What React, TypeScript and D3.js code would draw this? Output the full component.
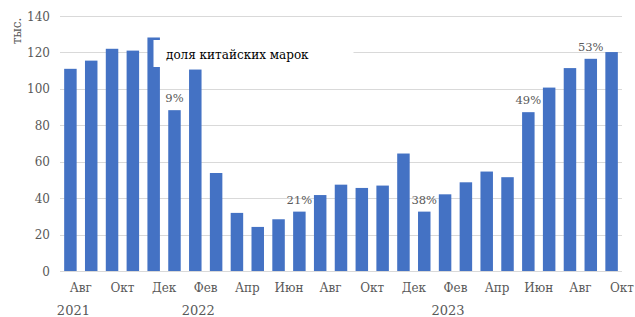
import React, { useEffect, useRef } from "react"
import * as d3 from "d3"

const months = [
  "Авг", "Сен", "Окт", "Ноя", "Дек",
  "Янв", "Фев", "Мар", "Апр", "Май", "Июн", "Июл", "Авг", "Сен", "Окт", "Ноя", "Дек",
  "Янв", "Фев", "Мар", "Апр", "Май", "Июн", "Июл", "Авг", "Сен", "Окт",
]
const years = [
  "2021", "2021", "2021", "2021", "2021",
  "2022", "2022", "2022", "2022", "2022", "2022", "2022", "2022", "2022", "2022", "2022", "2022",
  "2023", "2023", "2023", "2023", "2023", "2023", "2023", "2023", "2023", "2023",
]
const values = [
  111, 115.5, 122, 121, 128.2,
  88.3, 110.6, 53.8, 31.9, 24.2, 28.4, 32.6, 41.7, 47.4, 45.6, 46.9, 64.5,
  32.6, 42.1, 48.7, 54.6, 51.5, 87.2, 100.7, 111.4, 116.5, 120.2,
]
const shareCats = ["Янв 2022", "Июл 2022", "Янв 2023", "Июн 2023", "Сен 2023"]
const shareLabels = ["9%", "21%", "38%", "49%", "53%"]
const yTicks = [0, 20, 40, 60, 80, 100, 120, 140]
const yearTickCats = ["Авг 2021", "Фев 2022", "Фев 2023"]
const legendText = "доля китайских марок"
const unitLabel = "тыс."

const App = () => {
  const ref = useRef<SVGSVGElement>(null)

  useEffect(() => {
    const svg = d3.select(ref.current)
    svg.selectAll("*").remove()

    const serif = "'DejaVu Serif', serif"
    const gray = "#595959"
    const cats = months.map((m, i) => `${m} ${years[i]}`)
    const data = cats.map((c, i) => ({ cat: c, month: months[i], value: values[i] }))

    const x = d3.scaleBand().domain(cats).range([60, 622]).paddingInner(0.4).paddingOuter(0.2)
    const y = d3.scaleLinear().domain([0, 140]).range([271, 16])
    const step = x.step()
    const bw = x.bandwidth()

    // grid
    svg.append("g")
      .selectAll("line")
      .data(yTicks)
      .enter()
      .append("line")
      .attr("x1", 60)
      .attr("x2", 622)
      .attr("y1", (d) => Math.round(y(d)) + 0.5)
      .attr("y2", (d) => Math.round(y(d)) + 0.5)
      .attr("stroke", "#d9d9d9")
      .attr("stroke-width", 1)

    // y labels
    svg.append("g")
      .selectAll("text")
      .data(yTicks)
      .enter()
      .append("text")
      .attr("x", 50)
      .attr("y", (d) => y(d) + 4.5)
      .attr("text-anchor", "end")
      .style("font-family", serif)
      .attr("font-size", 12)
      .attr("fill", gray)
      .text((d) => d)

    svg.append("text")
      .attr("transform", `translate(21,31) rotate(-90)`)
      .attr("text-anchor", "middle")
      .style("font-family", serif)
      .attr("font-size", 12)
      .attr("fill", gray)
      .text(unitLabel)

    // bars
    svg.append("g")
      .selectAll("rect")
      .data(data)
      .enter()
      .append("rect")
      .attr("x", (d) => x(d.cat)!)
      .attr("width", bw)
      .attr("y", (d) => y(d.value))
      .attr("height", (d) => y(0) - y(d.value))
      .attr("fill", "#4472c4")

    // month labels, every other one
    svg.append("g")
      .selectAll("text")
      .data(data.filter((d, i) => i % 2 === 0))
      .enter()
      .append("text")
      .attr("x", (d) => x(d.cat)! + bw / 2 + step / 2)
      .attr("y", 292)
      .attr("text-anchor", "middle")
      .style("font-family", serif)
      .attr("font-size", 12)
      .attr("fill", gray)
      .text((d) => d.month)

    // year labels
    svg.append("g")
      .selectAll("text")
      .data(yearTickCats)
      .enter()
      .append("text")
      .attr("x", (d) => x(d)! + bw / 2 + 3)
      .attr("y", 315)
      .attr("text-anchor", "middle")
      .style("font-family", serif)
      .attr("font-size", 13)
      .attr("fill", gray)
      .text((d) => d.split(" ")[1])

    // share labels
    svg.append("g")
      .selectAll("text")
      .data(shareCats)
      .enter()
      .append("text")
      .attr("x", (d) => x(d)! + bw / 2)
      .attr("y", (d) => y(values[cats.indexOf(d)]) - 8)
      .attr("text-anchor", "middle")
      .style("font-family", serif)
      .attr("font-size", 11.5)
      .attr("fill", gray)
      .text((d, i) => shareLabels[i])

    // legend box covering the chart
    const lg = svg.append("g")
    lg.append("rect")
      .attr("x", 153.5)
      .attr("y", 40)
      .attr("width", 200)
      .attr("height", 27)
      .attr("fill", "#fff")
    lg.append("text")
      .attr("x", 166)
      .attr("y", 59)
      .style("font-family", serif)
      .attr("font-size", 12)
      .attr("fill", "#000")
      .text(legendText)
  }, [])

  return (
    <svg
      ref={ref}
      width={635}
      height={317}
      style={{ position: "absolute", left: 0, top: 0, background: "#fff" }}
    />
  )
}

export default App
